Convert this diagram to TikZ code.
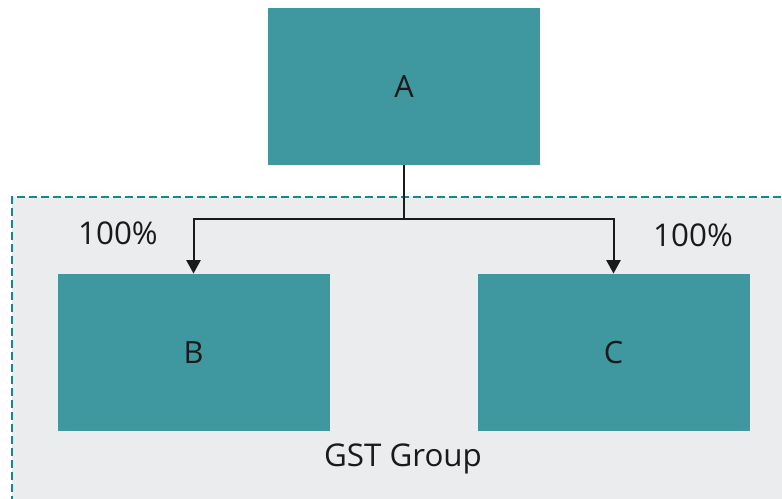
\documentclass[tikz,border=0pt]{standalone}
\usepackage{fontspec}
\setmainfont{Open Sans}
\usetikzlibrary{arrows.meta}
\definecolor{boxteal}{HTML}{3F97A0}
\definecolor{grpfill}{HTML}{EBECEE}
\definecolor{grpline}{HTML}{16878D}
\definecolor{ink}{HTML}{1A1A1A}
\begin{document}
\begin{tikzpicture}[x=0.75pt,y=-0.75pt,
  entity/.style={draw=none,fill=boxteal,minimum width=204pt,minimum height=118pt,
    inner sep=0pt,font=\fontsize{23}{27}\selectfont,text=ink},
  group/.style={draw=grpline,line width=1.5pt,dash pattern=on 6pt off 3pt,fill=grpfill,
    minimum width=600pt,minimum height=250pt,inner sep=0pt,anchor=north west},
  pct/.style={font=\fontsize{23.5}{28}\selectfont,text=ink},
  link/.style={draw=ink,line width=1.5pt},
  arrowlink/.style={link,-{Triangle[length=10pt,width=10.5pt]}}]
\useasboundingbox (0,0) rectangle (782,499);
\fill[white] (0,0) rectangle (782,499);
\begin{scope}
\clip (0,0) rectangle (782,499);
\node[group] (grp) at (11,196) {};
\end{scope}
\node[entity] (A) at (404,86.5) {A};
\node[entity] (B) at (193.5,352.5) {B};
\node[entity] (C) at (613.5,352.5) {C};
\coordinate (split) at (404,219);
\draw[link] (A.south) -- (split);
\draw[arrowlink] (split) -| (B.north);
\draw[arrowlink] (split) -| (C.north);
\node[pct] (pb) at (118,233) {100\%};
\node[pct] (pc) at (693,235) {100\%};
\node[pct] (glabel) at (403,459) {GST Group};
\end{tikzpicture}
\end{document}
